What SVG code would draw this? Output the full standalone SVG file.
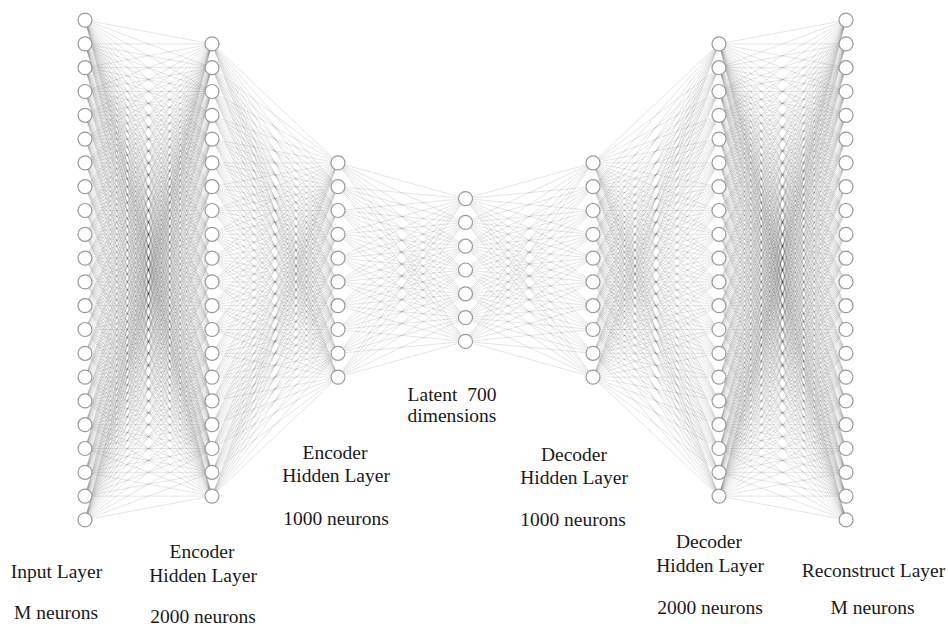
<svg xmlns="http://www.w3.org/2000/svg" width="948" height="627" viewBox="0 0 948 627">
<style>
.c path{fill:none;stroke:#000;stroke-opacity:.15;stroke-width:.7;vector-effect:non-scaling-stroke}
.n circle{fill:#fff;stroke:#9a9a9a;stroke-width:1.2}
.n text{font-family:"Liberation Serif",Tinos,"Noto Serif","DejaVu Serif","Nimbus Roman","Times New Roman",Times,FreeSerif,serif;font-size:19.5px;fill:#1a1a1a;text-anchor:middle}
</style>
<rect width="948" height="627" fill="#fff"/>
<g id="connectors" class="c">
<g id="cq">
<g transform="translate(85 20.1) scale(127 23.8)">
<path d="M0 0 1 1"/><path d="M0 0 1 2"/><path d="M0 0 1 3"/><path d="M0 0 1 4"/><path d="M0 0 1 5"/><path d="M0 0 1 6"/><path d="M0 0 1 7"/><path d="M0 0 1 8"/><path d="M0 0 1 9"/><path d="M0 0 1 10"/><path d="M0 0 1 11"/><path d="M0 0 1 12"/><path d="M0 0 1 13"/><path d="M0 0 1 14"/><path d="M0 0 1 15"/><path d="M0 0 1 16"/><path d="M0 0 1 17"/><path d="M0 0 1 18"/><path d="M0 0 1 19"/><path d="M0 0 1 20"/>
<path d="M0 1 1 1"/><path d="M0 1 1 2"/><path d="M0 1 1 3"/><path d="M0 1 1 4"/><path d="M0 1 1 5"/><path d="M0 1 1 6"/><path d="M0 1 1 7"/><path d="M0 1 1 8"/><path d="M0 1 1 9"/><path d="M0 1 1 10"/><path d="M0 1 1 11"/><path d="M0 1 1 12"/><path d="M0 1 1 13"/><path d="M0 1 1 14"/><path d="M0 1 1 15"/><path d="M0 1 1 16"/><path d="M0 1 1 17"/><path d="M0 1 1 18"/><path d="M0 1 1 19"/><path d="M0 1 1 20"/>
<path d="M0 2 1 1"/><path d="M0 2 1 2"/><path d="M0 2 1 3"/><path d="M0 2 1 4"/><path d="M0 2 1 5"/><path d="M0 2 1 6"/><path d="M0 2 1 7"/><path d="M0 2 1 8"/><path d="M0 2 1 9"/><path d="M0 2 1 10"/><path d="M0 2 1 11"/><path d="M0 2 1 12"/><path d="M0 2 1 13"/><path d="M0 2 1 14"/><path d="M0 2 1 15"/><path d="M0 2 1 16"/><path d="M0 2 1 17"/><path d="M0 2 1 18"/><path d="M0 2 1 19"/><path d="M0 2 1 20"/>
<path d="M0 3 1 1"/><path d="M0 3 1 2"/><path d="M0 3 1 3"/><path d="M0 3 1 4"/><path d="M0 3 1 5"/><path d="M0 3 1 6"/><path d="M0 3 1 7"/><path d="M0 3 1 8"/><path d="M0 3 1 9"/><path d="M0 3 1 10"/><path d="M0 3 1 11"/><path d="M0 3 1 12"/><path d="M0 3 1 13"/><path d="M0 3 1 14"/><path d="M0 3 1 15"/><path d="M0 3 1 16"/><path d="M0 3 1 17"/><path d="M0 3 1 18"/><path d="M0 3 1 19"/><path d="M0 3 1 20"/>
<path d="M0 4 1 1"/><path d="M0 4 1 2"/><path d="M0 4 1 3"/><path d="M0 4 1 4"/><path d="M0 4 1 5"/><path d="M0 4 1 6"/><path d="M0 4 1 7"/><path d="M0 4 1 8"/><path d="M0 4 1 9"/><path d="M0 4 1 10"/><path d="M0 4 1 11"/><path d="M0 4 1 12"/><path d="M0 4 1 13"/><path d="M0 4 1 14"/><path d="M0 4 1 15"/><path d="M0 4 1 16"/><path d="M0 4 1 17"/><path d="M0 4 1 18"/><path d="M0 4 1 19"/><path d="M0 4 1 20"/>
<path d="M0 5 1 1"/><path d="M0 5 1 2"/><path d="M0 5 1 3"/><path d="M0 5 1 4"/><path d="M0 5 1 5"/><path d="M0 5 1 6"/><path d="M0 5 1 7"/><path d="M0 5 1 8"/><path d="M0 5 1 9"/><path d="M0 5 1 10"/><path d="M0 5 1 11"/><path d="M0 5 1 12"/><path d="M0 5 1 13"/><path d="M0 5 1 14"/><path d="M0 5 1 15"/><path d="M0 5 1 16"/><path d="M0 5 1 17"/><path d="M0 5 1 18"/><path d="M0 5 1 19"/><path d="M0 5 1 20"/>
<path d="M0 6 1 1"/><path d="M0 6 1 2"/><path d="M0 6 1 3"/><path d="M0 6 1 4"/><path d="M0 6 1 5"/><path d="M0 6 1 6"/><path d="M0 6 1 7"/><path d="M0 6 1 8"/><path d="M0 6 1 9"/><path d="M0 6 1 10"/><path d="M0 6 1 11"/><path d="M0 6 1 12"/><path d="M0 6 1 13"/><path d="M0 6 1 14"/><path d="M0 6 1 15"/><path d="M0 6 1 16"/><path d="M0 6 1 17"/><path d="M0 6 1 18"/><path d="M0 6 1 19"/><path d="M0 6 1 20"/>
<path d="M0 7 1 1"/><path d="M0 7 1 2"/><path d="M0 7 1 3"/><path d="M0 7 1 4"/><path d="M0 7 1 5"/><path d="M0 7 1 6"/><path d="M0 7 1 7"/><path d="M0 7 1 8"/><path d="M0 7 1 9"/><path d="M0 7 1 10"/><path d="M0 7 1 11"/><path d="M0 7 1 12"/><path d="M0 7 1 13"/><path d="M0 7 1 14"/><path d="M0 7 1 15"/><path d="M0 7 1 16"/><path d="M0 7 1 17"/><path d="M0 7 1 18"/><path d="M0 7 1 19"/><path d="M0 7 1 20"/>
<path d="M0 8 1 1"/><path d="M0 8 1 2"/><path d="M0 8 1 3"/><path d="M0 8 1 4"/><path d="M0 8 1 5"/><path d="M0 8 1 6"/><path d="M0 8 1 7"/><path d="M0 8 1 8"/><path d="M0 8 1 9"/><path d="M0 8 1 10"/><path d="M0 8 1 11"/><path d="M0 8 1 12"/><path d="M0 8 1 13"/><path d="M0 8 1 14"/><path d="M0 8 1 15"/><path d="M0 8 1 16"/><path d="M0 8 1 17"/><path d="M0 8 1 18"/><path d="M0 8 1 19"/><path d="M0 8 1 20"/>
<path d="M0 9 1 1"/><path d="M0 9 1 2"/><path d="M0 9 1 3"/><path d="M0 9 1 4"/><path d="M0 9 1 5"/><path d="M0 9 1 6"/><path d="M0 9 1 7"/><path d="M0 9 1 8"/><path d="M0 9 1 9"/><path d="M0 9 1 10"/><path d="M0 9 1 11"/><path d="M0 9 1 12"/><path d="M0 9 1 13"/><path d="M0 9 1 14"/><path d="M0 9 1 15"/><path d="M0 9 1 16"/><path d="M0 9 1 17"/><path d="M0 9 1 18"/><path d="M0 9 1 19"/><path d="M0 9 1 20"/>
<path d="M0 10 1 1"/><path d="M0 10 1 2"/><path d="M0 10 1 3"/><path d="M0 10 1 4"/><path d="M0 10 1 5"/><path d="M0 10 1 6"/><path d="M0 10 1 7"/><path d="M0 10 1 8"/><path d="M0 10 1 9"/><path d="M0 10 1 10"/><path d="M0 10 1 11"/><path d="M0 10 1 12"/><path d="M0 10 1 13"/><path d="M0 10 1 14"/><path d="M0 10 1 15"/><path d="M0 10 1 16"/><path d="M0 10 1 17"/><path d="M0 10 1 18"/><path d="M0 10 1 19"/><path d="M0 10 1 20"/>
</g>
<g transform="translate(212 20.1) scale(126 23.8)">
<path d="M0 1 1 6"/><path d="M0 1 1 7"/><path d="M0 1 1 8"/><path d="M0 1 1 9"/><path d="M0 1 1 10"/><path d="M0 1 1 11"/><path d="M0 1 1 12"/><path d="M0 1 1 13"/><path d="M0 1 1 14"/><path d="M0 1 1 15"/>
<path d="M0 2 1 6"/><path d="M0 2 1 7"/><path d="M0 2 1 8"/><path d="M0 2 1 9"/><path d="M0 2 1 10"/><path d="M0 2 1 11"/><path d="M0 2 1 12"/><path d="M0 2 1 13"/><path d="M0 2 1 14"/><path d="M0 2 1 15"/>
<path d="M0 3 1 6"/><path d="M0 3 1 7"/><path d="M0 3 1 8"/><path d="M0 3 1 9"/><path d="M0 3 1 10"/><path d="M0 3 1 11"/><path d="M0 3 1 12"/><path d="M0 3 1 13"/><path d="M0 3 1 14"/><path d="M0 3 1 15"/>
<path d="M0 4 1 6"/><path d="M0 4 1 7"/><path d="M0 4 1 8"/><path d="M0 4 1 9"/><path d="M0 4 1 10"/><path d="M0 4 1 11"/><path d="M0 4 1 12"/><path d="M0 4 1 13"/><path d="M0 4 1 14"/><path d="M0 4 1 15"/>
<path d="M0 5 1 6"/><path d="M0 5 1 7"/><path d="M0 5 1 8"/><path d="M0 5 1 9"/><path d="M0 5 1 10"/><path d="M0 5 1 11"/><path d="M0 5 1 12"/><path d="M0 5 1 13"/><path d="M0 5 1 14"/><path d="M0 5 1 15"/>
<path d="M0 6 1 6"/><path d="M0 6 1 7"/><path d="M0 6 1 8"/><path d="M0 6 1 9"/><path d="M0 6 1 10"/><path d="M0 6 1 11"/><path d="M0 6 1 12"/><path d="M0 6 1 13"/><path d="M0 6 1 14"/><path d="M0 6 1 15"/>
<path d="M0 7 1 6"/><path d="M0 7 1 7"/><path d="M0 7 1 8"/><path d="M0 7 1 9"/><path d="M0 7 1 10"/><path d="M0 7 1 11"/><path d="M0 7 1 12"/><path d="M0 7 1 13"/><path d="M0 7 1 14"/><path d="M0 7 1 15"/>
<path d="M0 8 1 6"/><path d="M0 8 1 7"/><path d="M0 8 1 8"/><path d="M0 8 1 9"/><path d="M0 8 1 10"/><path d="M0 8 1 11"/><path d="M0 8 1 12"/><path d="M0 8 1 13"/><path d="M0 8 1 14"/><path d="M0 8 1 15"/>
<path d="M0 9 1 6"/><path d="M0 9 1 7"/><path d="M0 9 1 8"/><path d="M0 9 1 9"/><path d="M0 9 1 10"/><path d="M0 9 1 11"/><path d="M0 9 1 12"/><path d="M0 9 1 13"/><path d="M0 9 1 14"/><path d="M0 9 1 15"/>
<path d="M0 10 1 6"/><path d="M0 10 1 7"/><path d="M0 10 1 8"/><path d="M0 10 1 9"/><path d="M0 10 1 10"/><path d="M0 10 1 11"/><path d="M0 10 1 12"/><path d="M0 10 1 13"/><path d="M0 10 1 14"/><path d="M0 10 1 15"/>
</g>
<g transform="translate(338 20.1) scale(127.5 23.8)">
<path d="M0 6 1 7.5"/><path d="M0 6 1 8.5"/><path d="M0 6 1 9.5"/><path d="M0 6 1 10.5"/><path d="M0 6 1 11.5"/><path d="M0 6 1 12.5"/><path d="M0 6 1 13.5"/>
<path d="M0 7 1 7.5"/><path d="M0 7 1 8.5"/><path d="M0 7 1 9.5"/><path d="M0 7 1 10.5"/><path d="M0 7 1 11.5"/><path d="M0 7 1 12.5"/><path d="M0 7 1 13.5"/>
<path d="M0 8 1 7.5"/><path d="M0 8 1 8.5"/><path d="M0 8 1 9.5"/><path d="M0 8 1 10.5"/><path d="M0 8 1 11.5"/><path d="M0 8 1 12.5"/><path d="M0 8 1 13.5"/>
<path d="M0 9 1 7.5"/><path d="M0 9 1 8.5"/><path d="M0 9 1 9.5"/><path d="M0 9 1 10.5"/><path d="M0 9 1 11.5"/><path d="M0 9 1 12.5"/><path d="M0 9 1 13.5"/>
<path d="M0 10 1 7.5"/><path d="M0 10 1 8.5"/><path d="M0 10 1 9.5"/><path d="M0 10 1 10.5"/><path d="M0 10 1 11.5"/><path d="M0 10 1 12.5"/><path d="M0 10 1 13.5"/>
</g>
</g>
<use href="#cq" transform="matrix(1 0 0 -1 0 540)"/>
<use href="#cq" transform="matrix(-1 0 0 1 931 0)"/>
<use href="#cq" transform="matrix(-1 0 0 -1 931 540)"/>
</g>
<g id="input-layer" class="n">
<g id="a1"><circle cx="85" cy="20.1" r="7"/></g><g id="a2"><circle cx="85" cy="43.9" r="7"/></g><g id="a3"><circle cx="85" cy="67.7" r="7"/></g><g id="a4"><circle cx="85" cy="91.5" r="7"/></g><g id="a5"><circle cx="85" cy="115.3" r="7"/></g><g id="a6"><circle cx="85" cy="139.1" r="7"/></g><g id="a7"><circle cx="85" cy="162.9" r="7"/></g><g id="a8"><circle cx="85" cy="186.7" r="7"/></g><g id="a9"><circle cx="85" cy="210.5" r="7"/></g><g id="a10"><circle cx="85" cy="234.3" r="7"/></g><g id="a11"><circle cx="85" cy="258.1" r="7"/></g><g id="a12"><circle cx="85" cy="281.9" r="7"/></g><g id="a13"><circle cx="85" cy="305.7" r="7"/></g><g id="a14"><circle cx="85" cy="329.5" r="7"/></g><g id="a15"><circle cx="85" cy="353.3" r="7"/></g><g id="a16"><circle cx="85" cy="377.1" r="7"/></g><g id="a17"><circle cx="85" cy="400.9" r="7"/></g><g id="a18"><circle cx="85" cy="424.7" r="7"/></g><g id="a19"><circle cx="85" cy="448.5" r="7"/></g><g id="a20"><circle cx="85" cy="472.3" r="7"/></g><g id="a21"><circle cx="85" cy="496.1" r="7"/></g><g id="a22"><circle cx="85" cy="519.9" r="7"/></g>
<text x="56.5" y="578">Input Layer</text>
<text x="56" y="619">M neurons</text>
</g>
<g id="encoder-hidden-2000" class="n">
<g id="b1"><circle cx="212" cy="43.9" r="7"/></g><g id="b2"><circle cx="212" cy="67.7" r="7"/></g><g id="b3"><circle cx="212" cy="91.5" r="7"/></g><g id="b4"><circle cx="212" cy="115.3" r="7"/></g><g id="b5"><circle cx="212" cy="139.1" r="7"/></g><g id="b6"><circle cx="212" cy="162.9" r="7"/></g><g id="b7"><circle cx="212" cy="186.7" r="7"/></g><g id="b8"><circle cx="212" cy="210.5" r="7"/></g><g id="b9"><circle cx="212" cy="234.3" r="7"/></g><g id="b10"><circle cx="212" cy="258.1" r="7"/></g><g id="b11"><circle cx="212" cy="281.9" r="7"/></g><g id="b12"><circle cx="212" cy="305.7" r="7"/></g><g id="b13"><circle cx="212" cy="329.5" r="7"/></g><g id="b14"><circle cx="212" cy="353.3" r="7"/></g><g id="b15"><circle cx="212" cy="377.1" r="7"/></g><g id="b16"><circle cx="212" cy="400.9" r="7"/></g><g id="b17"><circle cx="212" cy="424.7" r="7"/></g><g id="b18"><circle cx="212" cy="448.5" r="7"/></g><g id="b19"><circle cx="212" cy="472.3" r="7"/></g><g id="b20"><circle cx="212" cy="496.1" r="7"/></g>
<text x="202" y="558">Encoder</text>
<text x="203" y="582">Hidden Layer</text>
<text x="203" y="623">2000 neurons</text>
</g>
<g id="encoder-hidden-1000" class="n">
<g id="c1"><circle cx="338" cy="162.9" r="7"/></g><g id="c2"><circle cx="338" cy="186.7" r="7"/></g><g id="c3"><circle cx="338" cy="210.5" r="7"/></g><g id="c4"><circle cx="338" cy="234.3" r="7"/></g><g id="c5"><circle cx="338" cy="258.1" r="7"/></g><g id="c6"><circle cx="338" cy="281.9" r="7"/></g><g id="c7"><circle cx="338" cy="305.7" r="7"/></g><g id="c8"><circle cx="338" cy="329.5" r="7"/></g><g id="c9"><circle cx="338" cy="353.3" r="7"/></g><g id="c10"><circle cx="338" cy="377.1" r="7"/></g>
<text x="335" y="459">Encoder</text>
<text x="336" y="482">Hidden Layer</text>
<text x="336" y="525">1000 neurons</text>
</g>
<g id="latent-700" class="n">
<g id="d1"><circle cx="465.5" cy="198.6" r="7"/></g><g id="d2"><circle cx="465.5" cy="222.4" r="7"/></g><g id="d3"><circle cx="465.5" cy="246.2" r="7"/></g><g id="d4"><circle cx="465.5" cy="270" r="7"/></g><g id="d5"><circle cx="465.5" cy="293.8" r="7"/></g><g id="d6"><circle cx="465.5" cy="317.6" r="7"/></g><g id="d7"><circle cx="465.5" cy="341.4" r="7"/></g>
<text x="452" y="401">Latent&#160; 700</text>
<text x="452" y="422">dimensions</text>
</g>
<g id="decoder-hidden-1000" class="n">
<g id="e1"><circle cx="593" cy="162.9" r="7"/></g><g id="e2"><circle cx="593" cy="186.7" r="7"/></g><g id="e3"><circle cx="593" cy="210.5" r="7"/></g><g id="e4"><circle cx="593" cy="234.3" r="7"/></g><g id="e5"><circle cx="593" cy="258.1" r="7"/></g><g id="e6"><circle cx="593" cy="281.9" r="7"/></g><g id="e7"><circle cx="593" cy="305.7" r="7"/></g><g id="e8"><circle cx="593" cy="329.5" r="7"/></g><g id="e9"><circle cx="593" cy="353.3" r="7"/></g><g id="e10"><circle cx="593" cy="377.1" r="7"/></g>
<text x="574" y="461">Decoder</text>
<text x="574" y="484">Hidden Layer</text>
<text x="573" y="526">1000 neurons</text>
</g>
<g id="decoder-hidden-2000" class="n">
<g id="f1"><circle cx="719" cy="43.9" r="7"/></g><g id="f2"><circle cx="719" cy="67.7" r="7"/></g><g id="f3"><circle cx="719" cy="91.5" r="7"/></g><g id="f4"><circle cx="719" cy="115.3" r="7"/></g><g id="f5"><circle cx="719" cy="139.1" r="7"/></g><g id="f6"><circle cx="719" cy="162.9" r="7"/></g><g id="f7"><circle cx="719" cy="186.7" r="7"/></g><g id="f8"><circle cx="719" cy="210.5" r="7"/></g><g id="f9"><circle cx="719" cy="234.3" r="7"/></g><g id="f10"><circle cx="719" cy="258.1" r="7"/></g><g id="f11"><circle cx="719" cy="281.9" r="7"/></g><g id="f12"><circle cx="719" cy="305.7" r="7"/></g><g id="f13"><circle cx="719" cy="329.5" r="7"/></g><g id="f14"><circle cx="719" cy="353.3" r="7"/></g><g id="f15"><circle cx="719" cy="377.1" r="7"/></g><g id="f16"><circle cx="719" cy="400.9" r="7"/></g><g id="f17"><circle cx="719" cy="424.7" r="7"/></g><g id="f18"><circle cx="719" cy="448.5" r="7"/></g><g id="f19"><circle cx="719" cy="472.3" r="7"/></g><g id="f20"><circle cx="719" cy="496.1" r="7"/></g>
<text x="709" y="548">Decoder</text>
<text x="710" y="572">Hidden Layer</text>
<text x="710" y="614">2000 neurons</text>
</g>
<g id="reconstruct-layer" class="n">
<g id="g1"><circle cx="846" cy="20.1" r="7"/></g><g id="g2"><circle cx="846" cy="43.9" r="7"/></g><g id="g3"><circle cx="846" cy="67.7" r="7"/></g><g id="g4"><circle cx="846" cy="91.5" r="7"/></g><g id="g5"><circle cx="846" cy="115.3" r="7"/></g><g id="g6"><circle cx="846" cy="139.1" r="7"/></g><g id="g7"><circle cx="846" cy="162.9" r="7"/></g><g id="g8"><circle cx="846" cy="186.7" r="7"/></g><g id="g9"><circle cx="846" cy="210.5" r="7"/></g><g id="g10"><circle cx="846" cy="234.3" r="7"/></g><g id="g11"><circle cx="846" cy="258.1" r="7"/></g><g id="g12"><circle cx="846" cy="281.9" r="7"/></g><g id="g13"><circle cx="846" cy="305.7" r="7"/></g><g id="g14"><circle cx="846" cy="329.5" r="7"/></g><g id="g15"><circle cx="846" cy="353.3" r="7"/></g><g id="g16"><circle cx="846" cy="377.1" r="7"/></g><g id="g17"><circle cx="846" cy="400.9" r="7"/></g><g id="g18"><circle cx="846" cy="424.7" r="7"/></g><g id="g19"><circle cx="846" cy="448.5" r="7"/></g><g id="g20"><circle cx="846" cy="472.3" r="7"/></g><g id="g21"><circle cx="846" cy="496.1" r="7"/></g><g id="g22"><circle cx="846" cy="519.9" r="7"/></g>
<text x="873.5" y="577">Reconstruct Layer</text>
<text x="872.5" y="614">M neurons</text>
</g>
</svg>
